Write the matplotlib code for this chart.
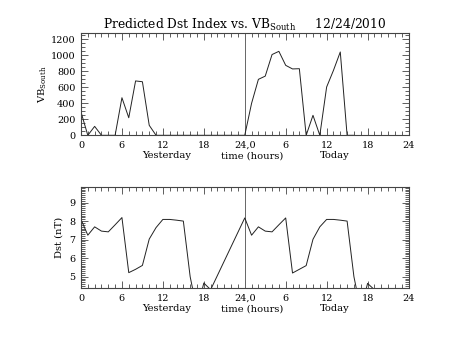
import matplotlib
matplotlib.use("Agg")
import matplotlib.pyplot as plt
from matplotlib.ticker import MultipleLocator, FixedLocator

plt.rcParams['font.family'] = ['DejaVu Serif']
plt.rcParams['mathtext.fontset'] = 'dejavuserif'

# Hours run over two days: 0-24 yesterday, 24-48 today
vb_hours = [0, 1, 2, 3, 4, 5, 6, 7, 8, 9, 10, 11, 24,
            25, 26, 27, 28, 29, 30, 31, 32, 33, 34, 35, 36, 37, 38, 39, 40]
vb_south = [290, 0, 112, 0, 0, 0, 470, 220, 680, 670, 125, 0, 0,
            400, 700, 740, 1010, 1050, 875, 830, 833, 0, 250, 0, 604, 812, 1042, 0, 0]

dst_hours = [0, 1, 2, 3, 4, 5, 6, 7, 8, 9, 10, 11, 12, 13, 14, 15, 16, 17, 18, 19, 24,
             25, 26, 27, 28, 29, 30, 31, 32, 33, 34, 35, 36, 37, 38, 39, 40, 41, 42, 43]
dst = [8.09, 7.24, 7.69, 7.46, 7.42, 7.8, 8.19, 5.22, 5.4, 5.61, 7.03, 7.65, 8.09, 8.09,
       8.05, 8.0, 5.0, 3.2, 4.66, 4.3, 8.17,
       7.24, 7.69, 7.46, 7.42, 7.8, 8.17, 5.2, 5.4, 5.6, 7.02, 7.69, 8.09, 8.09,
       8.05, 8.0, 5.0, 3.2, 4.64, 4.3]

x_ticks = [0, 6, 12, 18, 24, 30, 36, 42, 48]
x_ticklabels = ['0', '6', '12', '18', '24,0', '6', '12', '18', '24']

fig = plt.figure(figsize=(4.53, 3.40), dpi=100)
ax1 = fig.add_axes([0.1788, 0.602, 0.723, 0.3018])
ax2 = fig.add_axes([0.1788, 0.152, 0.723, 0.299])

tick_fs = 6.9
for ax in (ax1, ax2):
    ax.set_xlim(0, 48)
    ax.xaxis.set_major_locator(FixedLocator(x_ticks))
    ax.set_xticklabels(x_ticklabels)
    ax.xaxis.set_minor_locator(MultipleLocator(1))
    ax.tick_params(which='both', direction='in', top=True, right=True,
                   labelsize=tick_fs, width=0.6, color='#444444', pad=4)
    ax.tick_params(which='major', length=5.2)
    ax.tick_params(which='minor', length=2.8)
    for sp in ax.spines.values():
        sp.set_linewidth(0.8)
        sp.set_color('#444444')
    ax.axvline(24, color='#666666', lw=0.7)
    ax.text(0.263, -0.2, 'Yesterday', transform=ax.transAxes, ha='center',
            va='center', fontsize=tick_fs + 0.2)
    ax.text(0.524, -0.2, 'time (hours)', transform=ax.transAxes, ha='center',
            va='center', fontsize=tick_fs + 0.2)
    ax.text(0.774, -0.2, 'Today', transform=ax.transAxes, ha='center',
            va='center', fontsize=tick_fs + 0.2)

ax1.plot(vb_hours, vb_south, color='#222222', lw=0.7)
ax1.set_ylim(0, 1283)
ax1.yaxis.set_major_locator(MultipleLocator(200))
ax1.yaxis.set_minor_locator(MultipleLocator(50))
ax1.set_ylabel(r'VB$_{\mathrm{South}}$', fontsize=7.2, labelpad=1.5)

ax2.plot(dst_hours, dst, color='#222222', lw=0.7, clip_on=True)
ax2.set_ylim(4.375, 9.857)
ax2.yaxis.set_major_locator(MultipleLocator(1))
ax2.yaxis.set_minor_locator(MultipleLocator(0.1))
ax2.set_ylabel('Dst (nT)', fontsize=7.2, labelpad=4)

fig.text(0.54, 0.926, r'Predicted Dst Index vs. VB$_{\mathrm{South}}$     12/24/2010',
         ha='center', va='center', fontsize=8.8)

fig.savefig('out.png', dpi=100, facecolor='white')
